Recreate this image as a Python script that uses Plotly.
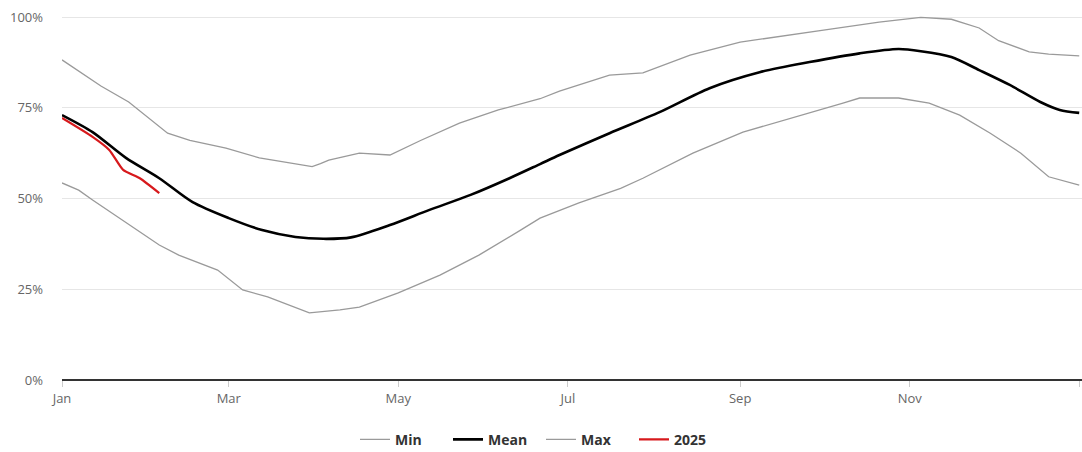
import plotly.graph_objects as go

# ---- data ----
max_dates = ["2024-01-01", "2024-01-15", "2024-01-25", "2024-02-08", "2024-02-16", "2024-02-29",
             "2024-03-12", "2024-03-24", "2024-03-31", "2024-04-03", "2024-04-06", "2024-04-17",
             "2024-04-28", "2024-05-09", "2024-05-23", "2024-06-06", "2024-06-21", "2024-06-28",
             "2024-07-16", "2024-07-28", "2024-08-14", "2024-09-01", "2024-09-19", "2024-10-01",
             "2024-10-21", "2024-11-05", "2024-11-16", "2024-11-26", "2024-12-03", "2024-12-14",
             "2024-12-21", "2025-01-01"]
max_values = [88.2, 81.0, 76.6, 68.0, 66.0, 63.9, 61.2, 59.8, 58.8, 59.6, 60.6, 62.5,
              62.0, 66.0, 70.8, 74.4, 77.5, 79.6, 84.0, 84.6, 89.5, 93.1, 95.0, 96.4,
              98.6, 99.9, 99.4, 97.0, 93.5, 90.4, 89.8, 89.3]

min_dates = ["2024-01-01", "2024-01-07", "2024-01-12", "2024-01-24", "2024-02-05", "2024-02-12",
             "2024-02-26", "2024-03-06", "2024-03-15", "2024-03-30", "2024-04-10", "2024-04-17",
             "2024-05-01", "2024-05-16", "2024-05-30", "2024-06-14", "2024-06-21", "2024-07-05",
             "2024-07-20", "2024-07-28", "2024-08-15", "2024-09-02", "2024-09-20", "2024-10-08",
             "2024-10-14", "2024-10-28", "2024-11-08", "2024-11-19", "2024-11-30", "2024-12-11",
             "2024-12-21", "2025-01-01"]
min_values = [54.3, 52.3, 49.6, 43.3, 37.2, 34.4, 30.3, 24.8, 22.9, 18.5, 19.3, 20.1,
              24.0, 28.9, 34.4, 41.3, 44.6, 48.8, 52.8, 55.6, 62.5, 68.3, 72.2, 76.3,
              77.7, 77.7, 76.3, 73.0, 68.0, 62.5, 56.0, 53.7]

mean_dates = ["2024-01-01", "2024-01-12", "2024-01-24", "2024-02-05", "2024-02-17", "2024-03-01",
              "2024-03-13", "2024-03-25", "2024-04-04", "2024-04-14", "2024-04-28", "2024-05-12",
              "2024-05-27", "2024-06-10", "2024-06-21", "2024-06-28", "2024-07-16", "2024-08-03",
              "2024-08-21", "2024-09-08", "2024-09-26", "2024-10-14", "2024-10-28", "2024-11-05",
              "2024-11-16", "2024-11-26", "2024-12-07", "2024-12-18", "2024-12-25", "2025-01-01"]
mean_values = [73.0, 68.3, 61.2, 55.6, 49.0, 44.6, 41.3, 39.4, 38.9, 39.3, 42.7, 46.8,
               51.0, 55.6, 59.5, 62.0, 68.0, 73.8, 80.4, 84.8, 87.6, 90.0, 91.2, 90.6,
               89.0, 85.4, 81.3, 76.6, 74.4, 73.6]

y2025_dates = ["2024-01-01", "2024-01-12", "2024-01-18", "2024-01-23", "2024-01-29", "2024-02-05"]
y2025_values = [72.2, 67.0, 63.4, 57.9, 55.6, 51.5]

y_ticks = [0, 25, 50, 75, 100]
y_tick_labels = ["0%", "25%", "50%", "75%", "100%"]

GRAY = "#9a9a9a"

fig = go.Figure()
fig.add_trace(go.Scatter(x=min_dates, y=min_values, name="Min", mode="lines",
                         line=dict(color=GRAY, width=1.3)))
fig.add_trace(go.Scatter(x=mean_dates, y=mean_values, name="Mean", mode="lines",
                         line=dict(color="#000000", width=2.6, shape="spline", smoothing=0.8)))
fig.add_trace(go.Scatter(x=max_dates, y=max_values, name="Max", mode="lines",
                         line=dict(color=GRAY, width=1.3)))
fig.add_trace(go.Scatter(x=y2025_dates, y=y2025_values, name="2025", mode="lines",
                         line=dict(color="#d7191c", width=2.2, shape="spline", smoothing=0.6)))

fig.update_layout(
    width=1082, height=452,
    margin=dict(l=62, r=0, t=12, b=72, autoexpand=False),
    paper_bgcolor="white", plot_bgcolor="white",
    font=dict(family="Open Sans, Noto Sans, sans-serif", color="#666666", size=13),
    showlegend=True,
    legend=dict(orientation="h", x=0.5, xref="container", xanchor="center",
                y=0.027, yref="container", yanchor="middle",
                font=dict(size=14, color="#333333", weight="bold"),
                itemwidth=30, entrywidth=48, traceorder="normal"),
    hovermode=False,
)
fig.update_xaxes(
    type="date", range=["2024-01-01", "2025-01-02"],
    dtick="M2", tick0="2024-01-01", tickformat="%b",
    ticks="outside", ticklen=6, tickcolor="#cccccc", tickwidth=1,
    showgrid=False, showline=False, zeroline=False,
    tickfont=dict(size=13, color="#666666"),
)
fig.update_yaxes(
    range=[0, 101.4], tickvals=y_ticks, ticktext=y_tick_labels,
    showgrid=True, gridcolor="#e6e6e6", gridwidth=1,
    zeroline=True, zerolinecolor="#333333", zerolinewidth=2,
    showline=False, ticks="", ticklabelstandoff=18,
    tickfont=dict(size=13, color="#666666"),
)

fig.write_html("out.html", config={"displayModeBar": False, "staticPlot": True},
               post_script="document.body.style.margin='0';document.body.style.overflow='hidden';")
